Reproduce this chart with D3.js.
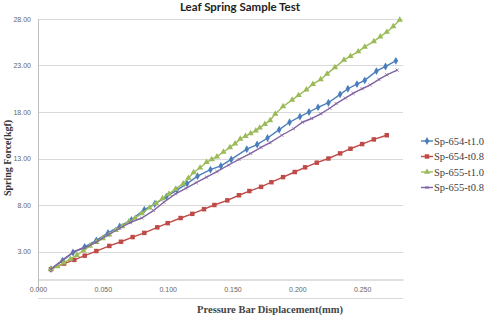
<!DOCTYPE html>
<html>
<head>
<meta charset="utf-8">
<script src="https://cdn.jsdelivr.net/npm/d3@7"></script>
<style>
  body { margin: 0; background: #fff; }
  svg { display: block; }
</style>
</head>
<body>
<div id="chart"></div>
<script>
// data
var seriesNames = ["Sp-654-t1.0", "Sp-654-t0.8", "Sp-655-t1.0", "Sp-655-t0.8"];

var blueX = [0.010, 0.019, 0.027, 0.036, 0.045, 0.054, 0.063, 0.072, 0.082, 0.090, 0.099, 0.107, 0.115, 0.123, 0.133, 0.141, 0.149, 0.161, 0.169, 0.177, 0.186, 0.194, 0.202, 0.209, 0.216, 0.224, 0.233, 0.239, 0.246, 0.252, 0.261, 0.268, 0.276];
var blueY = [1.1, 2.0, 2.9, 3.5, 4.2, 5.0, 5.7, 6.4, 7.5, 8.1, 8.9, 9.6, 10.3, 11.1, 11.8, 12.2, 12.9, 14.0, 14.5, 15.2, 16.1, 16.9, 17.5, 18.0, 18.5, 19.0, 19.9, 20.5, 21.0, 21.4, 22.4, 22.9, 23.5];

var redX = [0.010, 0.020, 0.028, 0.036, 0.045, 0.055, 0.064, 0.073, 0.082, 0.092, 0.100, 0.110, 0.119, 0.128, 0.136, 0.146, 0.155, 0.163, 0.172, 0.180, 0.189, 0.198, 0.206, 0.215, 0.224, 0.233, 0.241, 0.250, 0.259, 0.269];
var redY = [1.1, 1.7, 2.1, 2.55, 3.05, 3.6, 4.05, 4.55, 5.0, 5.6, 6.05, 6.6, 7.05, 7.55, 8.0, 8.5, 9.05, 9.5, 9.95, 10.45, 11.0, 11.55, 12.05, 12.55, 13.0, 13.55, 14.05, 14.55, 15.05, 15.5];

var greenX = [0.010, 0.015, 0.020, 0.025, 0.030, 0.035, 0.040, 0.045, 0.050, 0.055, 0.060, 0.065, 0.070, 0.075, 0.080, 0.086, 0.091, 0.096, 0.101, 0.106, 0.112, 0.116, 0.120, 0.125, 0.130, 0.134, 0.138, 0.143, 0.148, 0.152, 0.156, 0.160, 0.164, 0.168, 0.171, 0.175, 0.179, 0.183, 0.189, 0.196, 0.201, 0.207, 0.212, 0.218, 0.223, 0.229, 0.236, 0.241, 0.247, 0.252, 0.259, 0.264, 0.269, 0.274, 0.279];
var greenY = [1.1, 1.4, 1.8, 2.2, 2.6, 3.1, 3.6, 4.0, 4.4, 4.8, 5.3, 5.7, 6.2, 6.6, 7.1, 7.7, 8.2, 8.7, 9.2, 9.7, 10.3, 10.9, 11.5, 12.0, 12.6, 12.9, 13.2, 13.7, 14.2, 14.6, 15.1, 15.4, 15.7, 16.0, 16.3, 16.7, 17.1, 17.8, 18.6, 19.3, 19.8, 20.4, 21.0, 21.5, 22.1, 22.8, 23.6, 24.0, 24.5, 25.0, 25.6, 26.1, 26.6, 27.2, 27.9];

var purpleX = [0.010, 0.019, 0.028, 0.036, 0.045, 0.054, 0.063, 0.071, 0.080, 0.089, 0.097, 0.106, 0.114, 0.122, 0.130, 0.138, 0.147, 0.155, 0.164, 0.172, 0.179, 0.188, 0.197, 0.204, 0.211, 0.218, 0.225, 0.230, 0.237, 0.243, 0.250, 0.256, 0.263, 0.269, 0.277];
var purpleY = [1.1, 2.1, 3.0, 3.4, 4.0, 4.8, 5.5, 6.1, 6.6, 7.4, 8.3, 9.2, 9.8, 10.4, 11.0, 11.6, 12.3, 12.9, 13.55, 14.2, 14.7, 15.5, 16.2, 16.9, 17.3, 17.8, 18.4, 18.9, 19.5, 20.0, 20.5, 20.9, 21.5, 22.0, 22.5];

var xTicks = [0.000, 0.050, 0.100, 0.150, 0.200, 0.250];
var yTicks = [3, 8, 13, 18, 23, 28];

function DrawChart() {
  var svgWidth = 486;
  var svgHeight = 320;

  var svg = d3.select("#chart")
    .append("svg")
    .attr("width", svgWidth)
    .attr("height", svgHeight);

  // scales
  var xScale = d3.scaleLinear()
    .domain([0, 0.2815])
    .range([38, 403]);

  var yScale = d3.scaleLinear()
    .domain([-2, 28])
    .range([298, 19]);

  // gridlines
  svg.append("g")
    .selectAll("line")
    .data([-2].concat(yTicks))
    .enter()
    .append("line")
    .attr("x1", 38)
    .attr("x2", 403)
    .attr("y1", d => Math.round(yScale(d)) + 0.5)
    .attr("y2", d => Math.round(yScale(d)) + 0.5)
    .attr("stroke", "#d9d9d9")
    .attr("stroke-width", 1);

  // y axis (labels only, line drawn by hand)
  var yAxis = d3.axisLeft(yScale)
    .tickValues(yTicks)
    .tickSize(0)
    .tickPadding(7)
    .tickFormat(d3.format(".2f"));

  var yG = svg.append("g")
    .attr("transform", "translate(38,0)")
    .call(yAxis);
  yG.select(".domain").remove();
  yG.selectAll("text")
    .attr("font-family", "Liberation Sans, sans-serif")
    .attr("font-size", "7px")
    .attr("fill", "#666");

  // vertical axis line
  svg.append("line")
    .attr("x1", 38.5).attr("x2", 38.5)
    .attr("y1", 19).attr("y2", 290)
    .attr("stroke", "#bfbfbf");

  // horizontal axis at y = 0, labels below
  var xAxis = d3.axisBottom(xScale)
    .tickValues(xTicks)
    .tickSize(0)
    .tickPadding(8)
    .tickFormat(d3.format(".3f"));

  var xG = svg.append("g")
    .attr("transform", `translate(0, ${Math.round(yScale(0)) + 0.5})`)
    .call(xAxis);
  xG.select(".domain").attr("stroke", "#bfbfbf");
  xG.selectAll("text")
    .attr("font-family", "Liberation Sans, sans-serif")
    .attr("font-size", "7px")
    .attr("fill", "#666");

  var series = [
    {name: seriesNames[0], xs: blueX, ys: blueY, color: "#4a7ebb", shape: "diamond"},
    {name: seriesNames[1], xs: redX, ys: redY, color: "#be4b48", shape: "square"},
    {name: seriesNames[2], xs: greenX, ys: greenY, color: "#9bbb59", shape: "triangle"},
    {name: seriesNames[3], xs: purpleX, ys: purpleY, color: "#8064a2", shape: "cross"}
  ];

  var line = d3.line()
    .x(d => xScale(d[0]))
    .y(d => yScale(d[1]));

  function symbolFor(shape) {
    if (shape === "diamond") return d3.symbol().type(d3.symbolDiamond).size(18)();
    if (shape === "square") return d3.symbol().type(d3.symbolSquare).size(20)();
    if (shape === "triangle") return d3.symbol().type(d3.symbolTriangle).size(17)();
    return d3.symbol().type(d3.symbolTimes).size(8)();
  }

  series.forEach(function(s) {
    var pts = s.xs.map((x, i) => [x, s.ys[i]]);

    svg.append("path")
      .datum(pts)
      .attr("fill", "none")
      .attr("stroke", s.color)
      .attr("stroke-width", 1.4)
      .attr("d", line);

    svg.append("g")
      .selectAll("path")
      .data(pts)
      .enter()
      .append("path")
      .attr("transform", d => `translate(${xScale(d[0])}, ${yScale(d[1])})`)
      .attr("d", symbolFor(s.shape))
      .attr("fill", s.shape === "cross" ? "none" : s.color)
      .attr("stroke", s.shape === "cross" ? s.color : "none")
      .attr("stroke-width", 0.8);
  });

  // legend
  var legend = svg.append("g")
    .selectAll("g")
    .data(series)
    .enter()
    .append("g")
    .attr("transform", (d, i) => `translate(421, ${141 + i * 15.5})`);

  legend.append("line")
    .attr("x1", 0).attr("x2", 12)
    .attr("stroke", d => d.color)
    .attr("stroke-width", 1.4);

  legend.append("path")
    .attr("transform", "translate(6,0)")
    .attr("d", d => symbolFor(d.shape))
    .attr("fill", d => d.shape === "cross" ? "none" : d.color)
    .attr("stroke", d => d.shape === "cross" ? d.color : "none");

  legend.append("text")
    .attr("x", 13)
    .attr("y", 3.5)
    .attr("font-family", "Liberation Serif, serif")
    .attr("font-size", "10.5px")
    .attr("fill", "#404040")
    .text(d => d.name);

  // title
  svg.append("text")
    .attr("x", 240)
    .attr("y", 11)
    .attr("text-anchor", "middle")
    .attr("font-family", "Lato, Open Sans, sans-serif")
    .attr("font-weight", "bold")
    .attr("font-size", "11.5px")
    .attr("fill", "#222")
    .text("Leaf Spring Sample Test");

  // axis titles
  svg.append("text")
    .attr("transform", "translate(11, 158) rotate(-90)")
    .attr("text-anchor", "middle")
    .attr("font-family", "Liberation Serif, serif")
    .attr("font-weight", "bold")
    .attr("font-size", "10px")
    .attr("fill", "#333")
    .text("Spring Force(kgf)");

  svg.append("text")
    .attr("x", 270)
    .attr("y", 313)
    .attr("text-anchor", "middle")
    .attr("font-family", "Liberation Serif, serif")
    .attr("font-weight", "bold")
    .attr("font-size", "10.5px")
    .attr("fill", "#444")
    .text("Pressure Bar Displacement(mm)");
}

DrawChart();
</script>
</body>
</html>
